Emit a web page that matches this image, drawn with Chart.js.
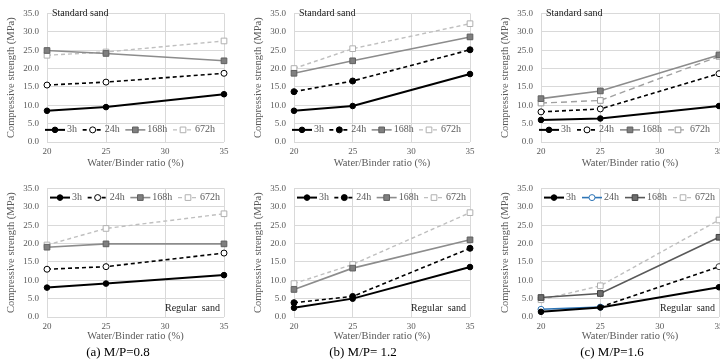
<!DOCTYPE html>
<html>
<head>
<meta charset="utf-8">
<title>Compressive strength vs Water/Binder ratio</title>
<script src="https://cdn.jsdelivr.net/npm/chart.js@4"></script>
<style>
body {
    margin: 0;
    background: #ffffff;
    width: 720px;
    height: 362px;
    overflow: hidden;
    position: relative;
    font-family: "Liberation Serif", serif;
}
canvas { position: absolute; }
.note {
    position: absolute;
    font-size: 10px;
    line-height: 12px;
    color: #1a1a1a;
    white-space: pre;
}
.cap {
    position: absolute;
    width: 160px;
    font-size: 13px;
    line-height: 16px;
    color: #000000;
    text-align: center;
    white-space: pre;
}
</style>
</head>
<body>
<script>
const wbRatio = [20, 25, 35];
const ages = ['3h', '24h', '168h', '672h'];

// rows: 3h, 24h, 168h, 672h  (values at W/B = 20, 25, 35)
const std08 = [[8.5, 9.5, 13.0], [15.5, 16.3, 18.7], [24.9, 24.1, 22.1], [23.6, 24.5, 27.5]];
const std12 = [[8.5, 9.8, 18.5], [13.7, 16.6, 25.1], [18.7, 22.1, 28.6], [20.0, 25.4, 32.2]];
const std16 = [[6.0, 6.4, 9.8], [8.2, 9.0, 18.6], [11.8, 13.9, 23.7], [10.6, 11.3, 23.3]];
const reg08 = [[8.0, 9.1, 11.4], [13.0, 13.7, 17.4], [19.0, 19.9, 19.9], [19.6, 24.1, 28.1]];
const reg12 = [[2.5, 5.0, 13.6], [3.9, 5.6, 18.7], [7.5, 13.3, 21.0], [9.1, 14.3, 28.4]];
const reg16 = [[1.4, 2.6, 8.1], [2.1, 2.7, 13.7], [5.3, 6.4, 21.7], [4.7, 8.5, 26.4]];

const sandLabels = ['Standard sand', 'Regular  sand'];
const captions = ['(a) M/P=0.8', '(b) M/P= 1.2', '(c) M/P=1.6'];

const panels = [[std08, std12, std16], [reg08, reg12, reg16]];

// layout of the 2x3 grid (pixels)
const colLeft = [47, 294, 541], colRight = [224, 470, 719];
const rowTop = [0, 175], rowH = [170, 168], rowAxisH = [28, 26];
const capCenter = [118, 363, 612];

const serif = 'Liberation Serif';
const gray = '#595959';

function seriesStyle(k, row, col) {
    const s = [
        {borderColor: '#000', borderWidth: 2, borderDash: [], pointStyle: 'circle', pointRadius: 2.8,
         pointBackgroundColor: '#000', pointBorderColor: '#000'},
        {borderColor: '#000', borderWidth: 1.6, borderDash: [4, 3], pointStyle: 'circle', pointRadius: 3,
         pointBackgroundColor: col === 1 ? '#000' : '#fff', pointBorderColor: '#000'},
        {borderColor: '#8c8c8c', borderWidth: 1.6, borderDash: [], pointStyle: 'rect', pointRadius: 4,
         pointBackgroundColor: '#7f7f7f', pointBorderColor: '#5f5f5f'},
        {borderColor: '#bfbfbf', borderWidth: 1.4, borderDash: [4, 3], pointStyle: 'rect', pointRadius: 4,
         pointBackgroundColor: '#fff', pointBorderColor: '#b0b0b0'}
    ][k];
    if (col === 2 && row === 0 && k === 3) {
        s.borderColor = '#a0a0a0';
        s.borderDash = [6, 4];
        s.pointBorderColor = '#999';
    }
    if (col === 2 && row === 1 && k === 1) {
        // first segment is blue/solid in the original
        s.borderColor = '#2e75b6';
        s.borderDash = [];
        s.pointBorderColor = ['#2e75b6', '#2e75b6', '#404040'];
        s.segment = {
            borderColor: c => c.p0DataIndex === 0 ? '#2e75b6' : '#000',
            borderDash: c => c.p0DataIndex === 0 ? [] : [4, 3]
        };
    }
    if (col === 2 && row === 1 && k === 2) {
        s.borderColor = '#595959';
        s.pointBackgroundColor = '#6d6d6d';
        s.pointBorderColor = '#404040';
    }
    return s;
}

// legend drawn inside the plot area
const insideLegend = {
    id: 'insideLegend',
    afterDatasetsDraw(chart, args, opts) {
        const {ctx, chartArea, scales} = chart;
        const y = scales.y.getPixelForValue(opts.at);
        const segLen = 20;
        ctx.save();
        ctx.font = '10px "' + serif + '"';
        ctx.textBaseline = 'middle';
        const items = chart.data.datasets.map(ds => ({ds, w: segLen + 2 + ctx.measureText(ds.label).width}));
        const total = items.reduce((a, it) => a + it.w, 0);
        const x0 = chartArea.left + opts.left, x1 = chartArea.right - opts.right;
        const gap = (x1 - x0 - total) / (items.length - 1);
        let x = x0;
        items.forEach(({ds, w}) => {
            ctx.strokeStyle = ds.borderColor;
            ctx.lineWidth = ds.borderWidth;
            ctx.setLineDash(ds.borderDash);
            ctx.beginPath();
            ctx.moveTo(x, y);
            ctx.lineTo(x + segLen, y);
            ctx.stroke();
            ctx.setLineDash([]);
            ctx.lineWidth = 1;
            ctx.fillStyle = ds.pointBackgroundColor;
            ctx.strokeStyle = Array.isArray(ds.pointBorderColor) ? ds.pointBorderColor[0] : ds.pointBorderColor;
            Chart.helpers.drawPoint(ctx, {pointStyle: ds.pointStyle, radius: ds.pointRadius, borderWidth: 1, rotation: 0}, x + segLen / 2, y);
            ctx.fillStyle = gray;
            ctx.fillText(ds.label, x + segLen + 2, y);
            x += w + gap;
        });
        ctx.restore();
    }
};

function addDiv(cls, text, left, top, extra) {
    const d = document.createElement('div');
    d.className = cls;
    d.textContent = text;
    d.style.left = left + 'px';
    d.style.top = top + 'px';
    if (extra) Object.assign(d.style, extra);
    document.body.appendChild(d);
}

for (let row = 0; row < 2; row++) {
    for (let col = 0; col < 3; col++) {
        const cv = document.createElement('canvas');
        const left = colLeft[col] - 47;
        cv.width = colRight[col] - left + 10;
        cv.height = rowH[row];
        cv.style.left = left + 'px';
        cv.style.top = rowTop[row] + 'px';
        document.body.appendChild(cv);

        const values = panels[row][col];
        const datasets = ages.map((age, k) => Object.assign({
            label: age,
            data: wbRatio.map((x, i) => ({x: x, y: values[k][i]})),
            tension: 0,
            pointBorderWidth: 1,
            clip: false
        }, seriesStyle(k, row, col)));

        new Chart(cv, {
            type: 'line',
            data: {datasets: datasets},
            plugins: [insideLegend],
            options: {
                responsive: false,
                animation: false,
                events: [],
                layout: {padding: {top: 5, right: 10, left: 0, bottom: 0}},
                plugins: {
                    legend: {display: false},
                    tooltip: {enabled: false},
                    insideLegend: row === 0 ? {at: 3.3, left: -2, right: 9} : {at: 32.5, left: 3, right: 4}
                },
                scales: {
                    x: {
                        type: 'linear', min: 20, max: 35,
                        afterFit: s => { s.height = rowAxisH[row]; },
                        ticks: {stepSize: 5, padding: 4, color: gray, font: {family: serif, size: 9}},
                        grid: {color: '#d9d9d9', drawTicks: false},
                        border: {display: false},
                        title: {display: true, text: 'Water/Binder ratio (%)', color: gray,
                                font: {family: serif, size: 10.5}, padding: {top: 0, bottom: 0}}
                    },
                    y: {
                        min: 0, max: 35,
                        afterFit: s => { s.width = 47; },
                        ticks: {stepSize: 5, padding: 8, color: gray, font: {family: serif, size: 9},
                                callback: v => v.toFixed(1)},
                        grid: {color: '#d9d9d9', drawTicks: false},
                        border: {display: false},
                        title: {display: true, text: 'Compressive strength (MPa)', color: gray,
                                font: {family: serif, size: 10.5}, padding: {top: 5, bottom: 0}}
                    }
                }
            }
        });

        if (row === 0) {
            addDiv('note', sandLabels[0], colLeft[col] + 5, 7);
        } else {
            addDiv('note', sandLabels[1], colRight[col] - 4 - 80, 302, {width: '80px', textAlign: 'right'});
            addDiv('cap', captions[col], capCenter[col] - 80, 344);
        }
    }
}
</script>
</body>
</html>
